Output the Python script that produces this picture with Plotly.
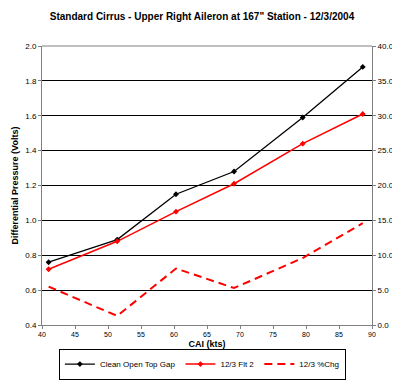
import plotly.graph_objects as go

cai = [41.0, 51.4, 60.3, 69.1, 79.5, 88.6]
clean_open_top_gap = [0.76, 0.89, 1.15, 1.28, 1.59, 1.88]
flt2 = [0.72, 0.88, 1.05, 1.21, 1.44, 1.61]
pct_chg = [5.5, 1.3, 8.1, 5.3, 9.6, 14.6]

font_family = "Arial, Liberation Sans, sans-serif"

fig = go.Figure()
fig.add_trace(go.Scatter(x=cai, y=clean_open_top_gap, name="Clean Open Top Gap",
                         mode="lines+markers",
                         line=dict(color="black", width=1.3),
                         marker=dict(symbol="diamond", size=4.5, color="black")))
fig.add_trace(go.Scatter(x=cai, y=flt2, name="12/3 Flt 2",
                         mode="lines+markers",
                         line=dict(color="#ff0000", width=1.5),
                         marker=dict(symbol="diamond", size=4.5, color="#ff0000")))
fig.add_trace(go.Scatter(x=cai, y=pct_chg, name="12/3 %Chg", yaxis="y2",
                         mode="lines",
                         line=dict(color="#ff0000", width=2, dash="8px,5px")))

fig.update_layout(
    width=400, height=381,
    margin=dict(l=34, r=36, t=38, b=64, autoexpand=False),
    paper_bgcolor="white", plot_bgcolor="white",
    font=dict(family=font_family, size=8, color="black"),
    title=dict(text="<b>Standard Cirrus - Upper Right Aileron at 167\" Station - 12/3/2004</b>",
               x=0.485, xanchor="center", y=0.979, yanchor="middle",
               font=dict(size=10, family=font_family)),
    xaxis=dict(range=[40, 90], dtick=5, showgrid=False, zeroline=False,
               showline=True, linecolor="#808080", linewidth=1, mirror=False,
               ticks="outside", ticklen=3, tickcolor="#808080",
               tickfont=dict(size=7), automargin=False,
               title=dict(text="<b>CAI (kts)</b>", font=dict(size=9), standoff=3)),
    yaxis=dict(range=[0.4, 2.0], dtick=0.2, tickformat=".1f",
               showgrid=True, gridcolor="#000000", gridwidth=1, zeroline=False,
               showline=True, linecolor="#808080", linewidth=1,
               ticks="outside", ticklen=3, tickcolor="#808080",
               tickfont=dict(size=8), automargin=False,
               title=dict(text="<b>Differential Pressure (Volts)</b>", font=dict(size=9), standoff=5)),
    yaxis2=dict(range=[0, 40], dtick=5, tickformat=".1f", overlaying="y", side="right",
                showgrid=False, zeroline=False,
                showline=True, linecolor="#808080", linewidth=1,
                ticks="outside", ticklen=3, tickcolor="#808080",
                tickfont=dict(size=8), automargin=False),
    legend=dict(orientation="h", x=0.486, xanchor="center", y=-0.14, yanchor="middle",
                bordercolor="black", borderwidth=1, bgcolor="white",
                font=dict(size=8), tracegroupgap=0),
    showlegend=True,
)
# top border of plot area
fig.add_shape(type="line", xref="paper", yref="paper", x0=0, x1=1, y0=1, y1=1,
              line=dict(color="#808080", width=1))

fig.write_html("out.html")
